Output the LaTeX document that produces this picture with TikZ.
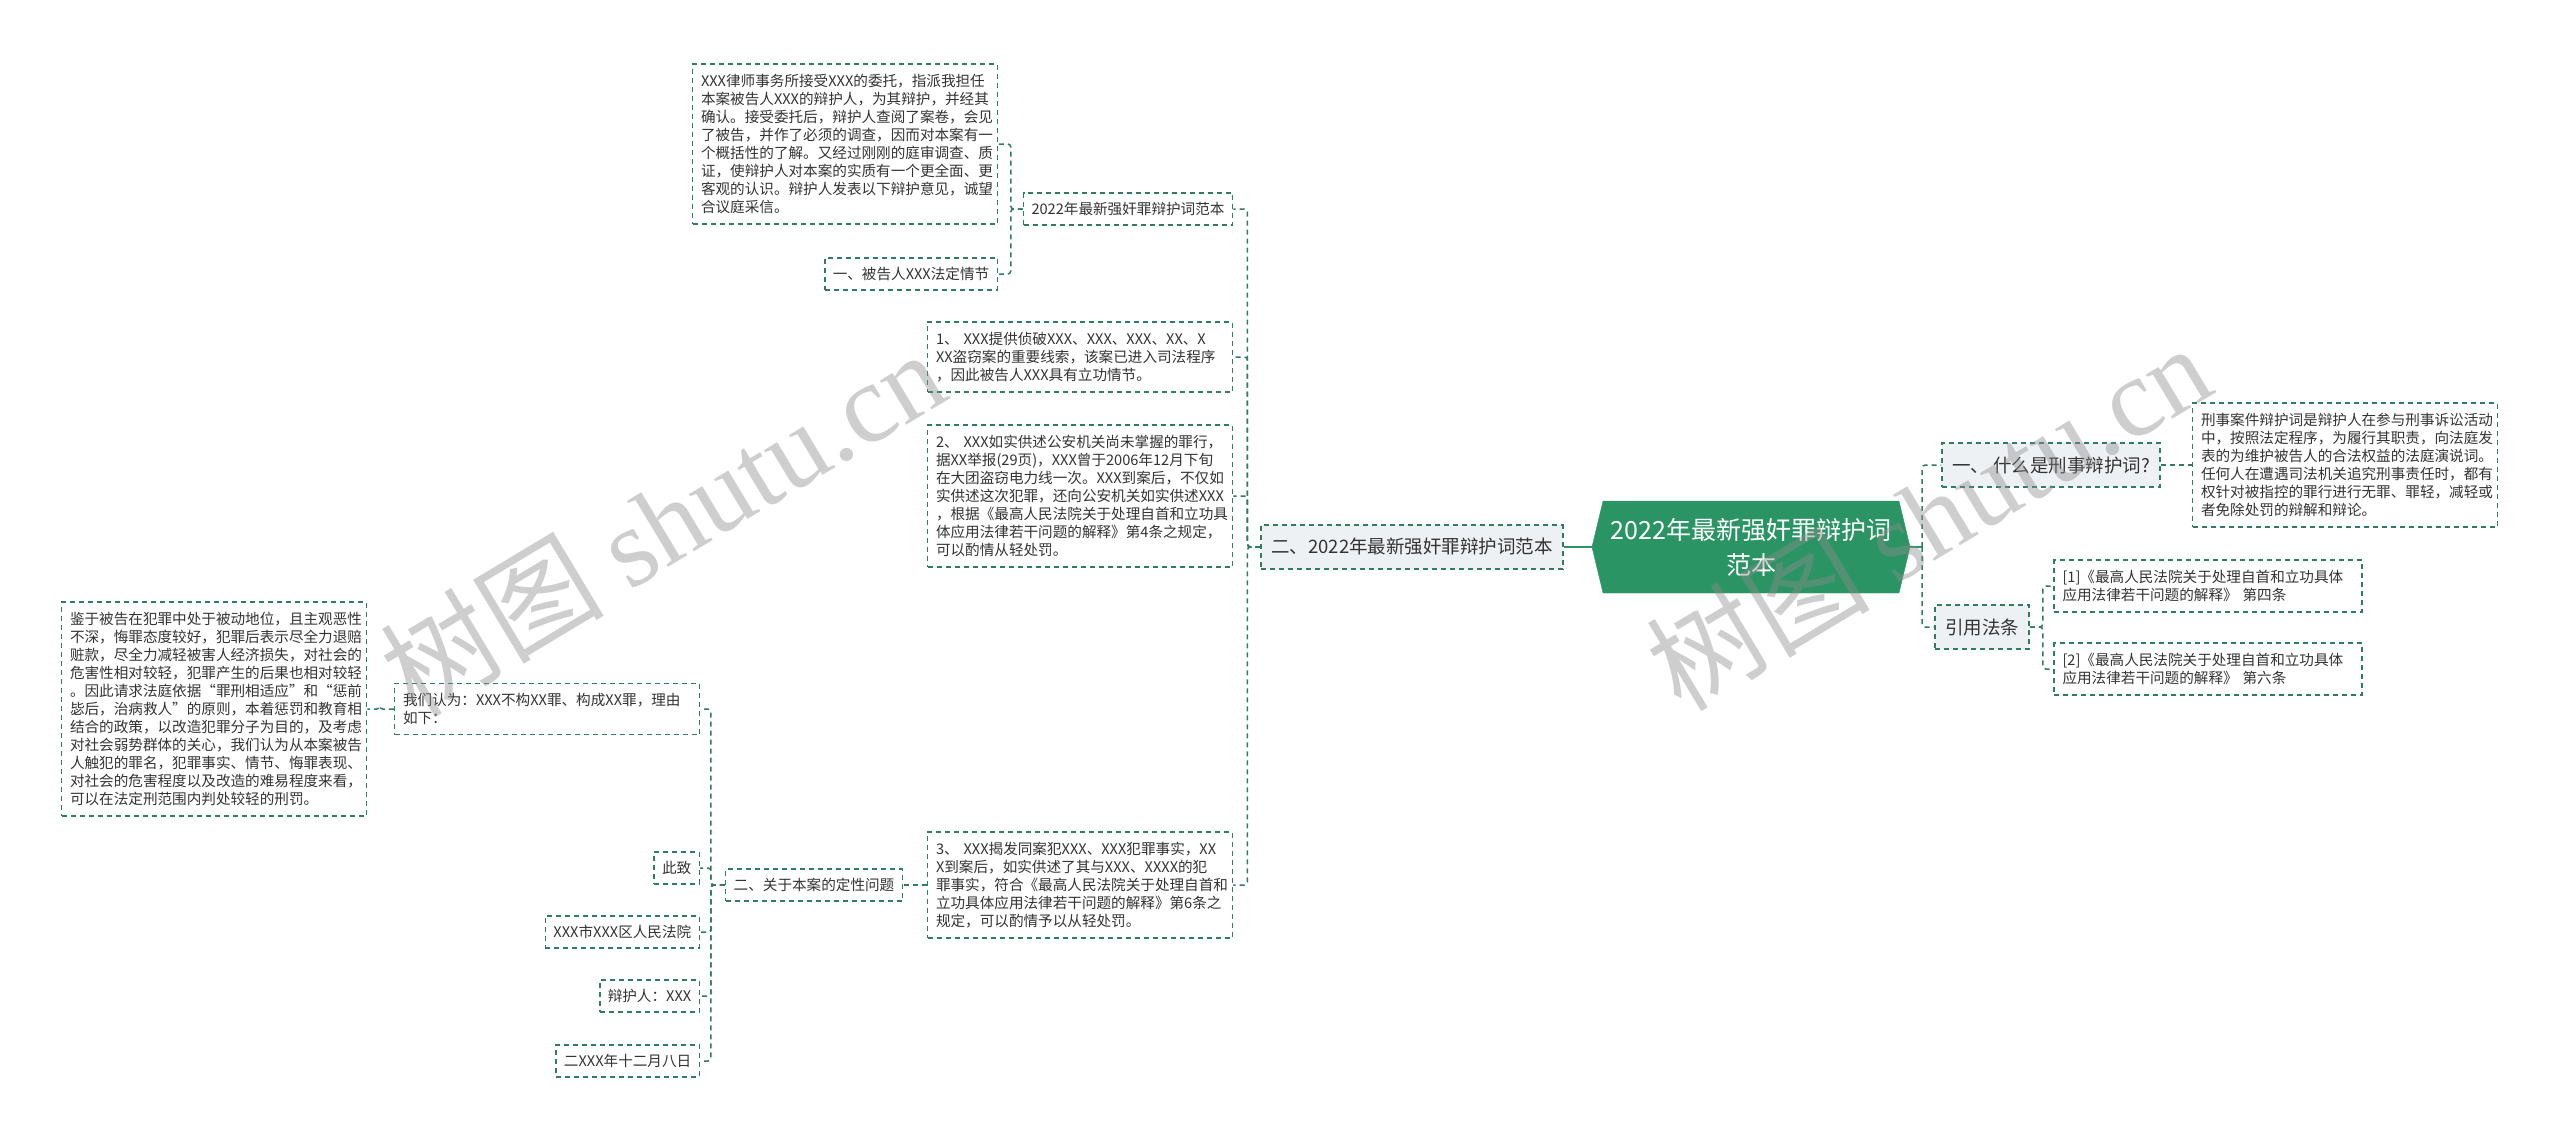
\documentclass[tikz,border=0pt]{standalone}
\usepackage{fontspec}
\setmainfont{Noto Sans CJK SC}
\newfontfamily\wmserif{Liberation Serif}
\usetikzlibrary{shapes.symbols}
\definecolor{mapgreen}{HTML}{2A9464}
\definecolor{linegreen}{HTML}{2F7D5E}
\definecolor{topicgray}{HTML}{EEF1F4}
\definecolor{textgray}{HTML}{333333}
\begin{document}
\begin{tikzpicture}[x=1pt, y=-1pt,
  rootbox/.style={signal, signal to=east and west, signal pointer angle=153, fill=mapgreen, draw=mapgreen, text=white, align=center, font=\fontsize{25}{35}\selectfont, minimum width=318pt, minimum height=92pt, inner sep=0pt},
  topicbox/.style={rectangle, draw=linegreen, dash pattern=on 5pt off 4pt, line width=1.5pt, fill=topicgray, text=textgray, font=\fontsize{18.5}{23}\selectfont, minimum height=44pt, inner xsep=10pt},
  leafbox/.style={rectangle, draw=linegreen, dash pattern=on 5pt off 4pt, line width=1.5pt, fill=white, text=textgray, font=\fontsize{14.6}{18}\selectfont, minimum height=32pt, inner xsep=8pt},
  textbox/.style={leafbox, text width=288pt, align=left, inner xsep=8.5pt, inner ysep=10pt},
  link/.style={draw=linegreen, line width=1.5pt, dash pattern=on 5pt off 4pt, rounded corners=3pt},
  trunk/.style={draw=mapgreen, line width=2pt},
  wmark/.style={text=black!45, text opacity=0.42, font=\fontsize{112}{112}\selectfont, rotate=31}]
  \fill[white] (0,0) rectangle (2560,1140);
  \useasboundingbox (0,0) rectangle (2560,1140);
  % Nodes
  \node (root) [rootbox] at (1751, 547) {2022年最新强奸罪辩护词\\范本};
  \node (L2022) [topicbox] at (1412, 547) {二、2022年最新强奸罪辩护词范本};
  \node (what) [topicbox] at (2051, 465) {一、 什么是刑事辩护词?};
  \node (cite) [topicbox] at (1982, 627) {引用法条};
  \node (title2) [leafbox] at (1128, 209) {2022年最新强奸罪辩护词范本};
  \node (intro) [textbox] at (845, 144) {XXX律师事务所接受XXX的委托，指派我担任\\本案被告人XXX的辩护人，为其辩护，并经其\\确认。接受委托后，辩护人查阅了案卷，会见\\了被告，并作了必须的调查，因而对本案有一\\个概括性的了解。又经过刚刚的庭审调查、质\\证，使辩护人对本案的实质有一个更全面、更\\客观的认识。辩护人发表以下辩护意见，诚望\\合议庭采信。};
  \node (fact) [leafbox] at (911, 274) {一、被告人XXX法定情节};
  \node (item1) [textbox] at (1080, 357) {1、 XXX提供侦破XXX、XXX、XXX、XX、X\\XX盗窃案的重要线索，该案已进入司法程序\\，因此被告人XXX具有立功情节。};
  \node (item2) [textbox] at (1080, 496) {2、 XXX如实供述公安机关尚未掌握的罪行，\\据XX举报(29页)，XXX曾于2006年12月下旬\\在大团盗窃电力线一次。XXX到案后，不仅如\\实供述这次犯罪，还向公安机关如实供述XXX\\，根据《最高人民法院关于处理自首和立功具\\体应用法律若干问题的解释》第4条之规定，\\可以酌情从轻处罚。};
  \node (item3) [textbox] at (1080, 885) {3、 XXX揭发同案犯XXX、XXX犯罪事实，XX\\X到案后，如实供述了其与XXX、XXXX的犯\\罪事实，符合《最高人民法院关于处理自首和\\立功具体应用法律若干问题的解释》第6条之\\规定，可以酌情予以从轻处罚。};
  \node (nature) [leafbox] at (814, 885) {二、关于本案的定性问题};
  \node (opinion) [textbox] at (547, 709) {我们认为：XXX不构XX罪、构成XX罪，理由\\如下：};
  \node (reason) [textbox] at (214, 709) {鉴于被告在犯罪中处于被动地位，且主观恶性\\不深，悔罪态度较好，犯罪后表示尽全力退赔\\赃款，尽全力减轻被害人经济损失，对社会的\\危害性相对较轻，犯罪产生的后果也相对较轻\\。因此请求法庭依据“罪刑相适应”和“惩前\\毖后，治病救人”的原则，本着惩罚和教育相\\结合的政策，以改造犯罪分子为目的，及考虑\\对社会弱势群体的关心，我们认为从本案被告\\人触犯的罪名，犯罪事实、情节、悔罪表现、\\对社会的危害程度以及改造的难易程度来看，\\可以在法定刑范围内判处较轻的刑罚。};
  \node (zhizhi) [leafbox, anchor=east] at (700, 868) {此致};
  \node (court) [leafbox, anchor=east] at (700, 932) {XXX市XXX区人民法院};
  \node (lawyer) [leafbox, anchor=east] at (700, 996) {辩护人：XXX};
  \node (date) [leafbox, anchor=east] at (700, 1061) {二XXX年十二月八日};
  \node (desc) [textbox] at (2345, 465) {刑事案件辩护词是辩护人在参与刑事诉讼活动\\中，按照法定程序，为履行其职责，向法庭发\\表的为维护被告人的合法权益的法庭演说词。\\任何人在遭遇司法机关追究刑事责任时，都有\\权针对被指控的罪行进行无罪、罪轻，减轻或\\者免除处罚的辩解和辩论。};
  \node (ref1) [textbox, text width=291pt] at (2208, 586) {[1]《最高人民法院关于处理自首和立功具体\\应用法律若干问题的解释》 第四条};
  \node (ref2) [textbox, text width=291pt] at (2208, 669) {[2]《最高人民法院关于处理自首和立功具体\\应用法律若干问题的解释》 第六条};
  % Connectors
  \draw[trunk] (root.west) -- (L2022.east);
  \draw[trunk] (root.east) -- ++(12,0);
  \draw[link] (root.east) ++(12,0) |- (what.west);
  \draw[link] (root.east) ++(12,0) |- (cite.west);
  \draw[link] (what.east) -- (desc.west);
  \draw[link] (cite.east) -- ++(13,0) |- (ref1.west);
  \draw[link] (cite.east) -- ++(13,0) |- (ref2.west);
  \draw[link] (L2022.west) -- ++(-13,0) |- (title2.east);
  \draw[link] (L2022.west) -- ++(-13,0) |- (item1.east);
  \draw[link] (L2022.west) -- ++(-13,0) |- (item2.east);
  \draw[link] (L2022.west) -- ++(-13,0) |- (item3.east);
  \draw[link] (title2.west) -- ++(-12,0) |- (intro.east);
  \draw[link] (title2.west) -- ++(-12,0) |- (fact.east);
  \draw[link] (item3.west) -- (nature.east);
  \draw[link] (nature.west) -- ++(-14,0) |- (opinion.east);
  \draw[link] (nature.west) -- ++(-14,0) |- (zhizhi.east);
  \draw[link] (nature.west) -- ++(-14,0) |- (court.east);
  \draw[link] (nature.west) -- ++(-14,0) |- (lawyer.east);
  \draw[link] (nature.west) -- ++(-14,0) |- (date.east);
  \draw[link] (opinion.west) -- ++(-14,0) |- (reason.east);
  % Watermark
  \node (wmleft) [wmark] at (662, 522) {树图 {\wmserif shutu.cn}};
  \node (wmright) [wmark] at (1928, 516) {树图 {\wmserif shutu.cn}};
\end{tikzpicture}
\end{document}
